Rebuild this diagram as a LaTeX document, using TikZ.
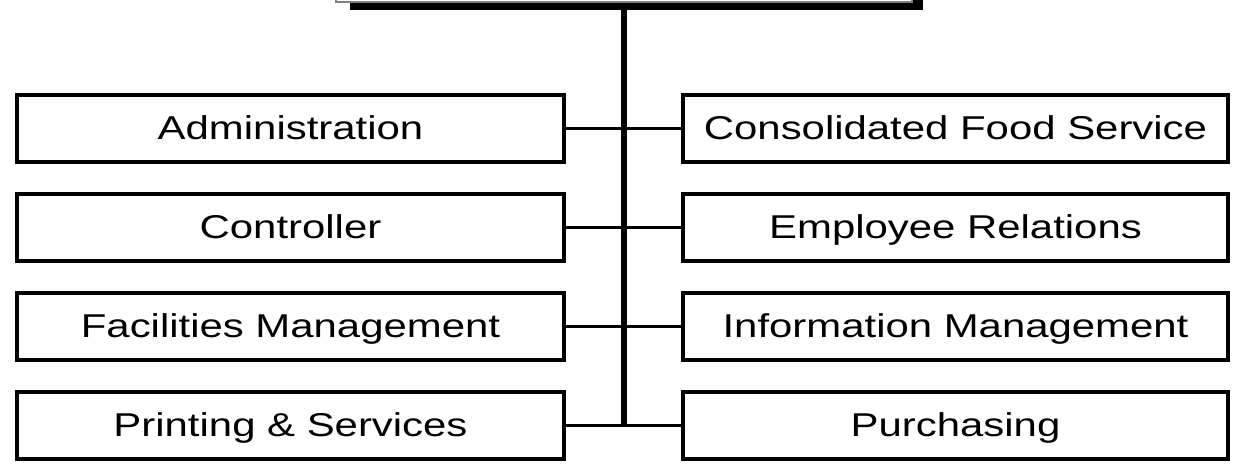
\documentclass[tikz,border=0pt]{standalone}
\usepackage{fontspec}
\newfontfamily\boxfont[FakeStretch=1.27]{Liberation Sans}
\begin{document}
\begin{tikzpicture}[x=1pt,y=-1pt,
  unit/.style={draw, line width=4pt, minimum height=67pt, inner sep=0pt,
    text height=23.6pt, text depth=0pt,
    font=\boxfont\fontsize{33}{40}\selectfont},
  leftunit/.style={unit, minimum width=547pt},
  rightunit/.style={unit, minimum width=545pt},
  link/.style={line width=3pt},
  trunk/.style={line width=6pt}]
\useasboundingbox (0,0) rectangle (1237,466);
% head box, mostly above the page, with its drop shadow
\fill[black] (350,-80) rectangle (923,10);
\node[draw=gray, line width=1.5pt, fill=white, minimum width=576pt,
  minimum height=80pt, inner sep=0pt] (head) at (624,-38) {};
% departments
\node[leftunit]  (adm) at (290.5,128) {Administration};
\node[rightunit] (cfs) at (955.5,128) {Consolidated Food Service};
\node[leftunit]  (ctl) at (290.5,227) {Controller};
\node[rightunit] (emp) at (955.5,227) {Employee Relations};
\node[leftunit]  (fac) at (290.5,326) {Facilities Management};
\node[rightunit] (inf) at (955.5,326) {Information Management};
\node[leftunit]  (prt) at (290.5,425) {Printing \& Services};
\node[rightunit] (pur) at (955.5,425) {Purchasing};
% connectors
\draw[trunk] (head.south) -- (head.south |- prt.east);
\draw[link] (adm.east) -- (cfs.west);
\draw[link] (ctl.east) -- (emp.west);
\draw[link] (fac.east) -- (inf.west);
\draw[link] (prt.east) -- (pur.west);
\end{tikzpicture}
\end{document}
